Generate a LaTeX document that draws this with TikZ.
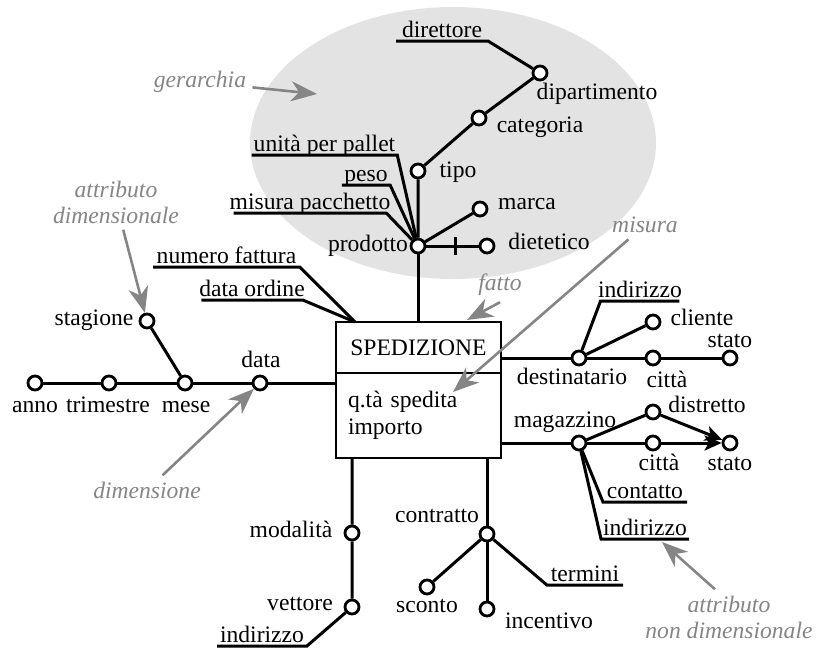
\documentclass[tikz,border=0pt]{standalone}
\usepackage{fontspec}
\setmainfont{Liberation Serif}
\usetikzlibrary{shapes.geometric,arrows.meta,calc,positioning}

\tikzset{
  every node/.style={font=\fontsize{11.8}{13.5}\selectfont},
  attr/.style={circle, draw, fill=white, line width=1.4pt, minimum size=7pt, inner sep=0pt},
  lbl/.style={inner sep=0pt, outer sep=0pt, text height=0.7em, text depth=0.2em},
  uline/.style={lbl, anchor=south},
  fact/.style={draw, line width=1.4pt, outer sep=0pt, minimum width=82.5pt, inner xsep=6pt},
  link/.style={line width=1.5pt},
  tip/.style={-{Stealth[length=8.5pt,width=7.5pt,inset=2pt]}},
  note/.style={text=black!48, font=\fontsize{11.8}{13}\selectfont\itshape, align=center, inner sep=3pt},
  notearrow/.style={draw=black!48, line width=1.3pt, -{Stealth[length=13pt,width=10pt,inset=4pt]}},
}

\begin{document}
\begin{tikzpicture}[x=0.5pt,y=-0.5pt]
\useasboundingbox (0,0) rectangle (816,649);

\node[ellipse, fill=black!11, inner sep=0pt, minimum width=203pt, minimum height=136pt] (gerarchia) at (453,143) {};

% fatto
\node[fact, minimum height=25.5pt] (spediz) at (418.5,347.5) {SPEDIZIONE};
\node[fact, minimum height=42.5pt, text width=70.5pt, align=left, below=0pt of spediz] (misure) {q.tà spedita\\importo};
\coordinate (conv) at ($(spediz.north west)+(19,0)$);

% prodotto
\node[attr] (prod) at (418,246) {};
\node[attr] (tipo) at (418,171) {};
\node[attr] (categ) at (479,118) {};
\node[attr] (dipart) at (540,73) {};
\node[attr] (marca) at (480,209) {};
\node[attr] (diet) at (487,246) {};
\node[lbl] (prod_lbl) at (368,246) {prodotto};
\node[lbl] (tipo_lbl) at (458,172) {tipo};
\node[lbl] (categ_lbl) at (540,127) {categoria};
\node[lbl] (dipart_lbl) at (597,94) {dipartimento};
\node[lbl] (marca_lbl) at (527,204) {marca};
\node[lbl] (diet_lbl) at (549,244) {dietetico};
\node[uline, inner xsep=3pt] (direttore) at (442,41) {direttore};
\node[uline, inner xsep=1pt] (unita) at (324.5,155) {unità per pallet};
\node[uline, inner xsep=1.25pt] (peso) at (366,185) {peso};
\node[uline, inner xsep=-2pt] (misura) at (310,213) {misura pacchetto};

% data
\node[attr] (anno) at (35,383) {};
\node[attr] (trim) at (109,383) {};
\node[attr] (mese) at (185,383) {};
\node[attr] (data) at (260,383) {};
\node[attr] (stag) at (147,321) {};
\node[lbl] (anno_lbl) at (35,407) {anno};
\node[lbl] (trim_lbl) at (108,407) {trimestre};
\node[lbl] (mese_lbl) at (186,407) {mese};
\node[lbl] (data_lbl) at (261,362) {data};
\node[lbl] (stag_lbl) at (94,320) {stagione};
\node[uline, inner xsep=1.75pt] (num_fatt) at (226.5,267) {numero fattura};
\node[uline, inner xsep=-1pt] (data_ord) at (252,300) {data ordine};

% destinatario
\node[attr] (dest) at (579,358) {};
\node[attr] (citta) at (653,358) {};
\node[attr] (stato) at (730,358) {};
\node[attr] (cliente) at (653,322) {};
\node[lbl] (dest_lbl) at (572,379) {destinatario};
\node[lbl] (citta_lbl) at (667,382) {città};
\node[lbl] (stato_lbl) at (730,342) {stato};
\node[lbl] (cliente_lbl) at (702,320) {cliente};
\node[uline, inner xsep=-1.25pt] (ind_dest) at (640,301) {indirizzo};

% magazzino
\node[attr] (magaz) at (579,443) {};
\node[attr] (citta2) at (653,443) {};
\node[attr] (distr) at (653,412) {};
\node[attr] (stato2) at (730,443) {};
\node[lbl] (magaz_lbl) at (565,422) {magazzino};
\node[lbl] (distr_lbl) at (707,407) {distretto};
\node[lbl] (citta2_lbl) at (659,465) {città};
\node[lbl] (stato2_lbl) at (730,465) {stato};
\node[uline, inner xsep=2pt] (contatto) at (645,502) {contatto};
\node[uline, inner xsep=1pt] (ind_mag) at (645,539) {indirizzo};

% modalita, contratto
\node[attr] (modal) at (352,533) {};
\node[attr] (vett) at (352,607) {};
\node[attr] (contr) at (487,534) {};
\node[attr] (sconto) at (427,587) {};
\node[attr] (incent) at (487,609) {};
\node[lbl] (modal_lbl) at (291,532) {modalità};
\node[lbl] (vett_lbl) at (300,605) {vettore};
\node[lbl] (contr_lbl) at (437,517) {contratto};
\node[lbl] (sconto_lbl) at (427,607) {sconto};
\node[lbl] (incent_lbl) at (549,623) {incentivo};
\node[uline, inner xsep=1.5pt] (ind_vett) at (262,646) {indirizzo};
\node[uline, inner xsep=2pt] (termini) at (585,585) {termini};

\draw[link] (prod) -- (prod |- spediz.north);
\draw[link] (prod) -- (tipo) -- (categ) -- (dipart) -- (direttore.south east) -- (direttore.south west);
\draw[link] (prod) -- (marca);
\draw[link] (prod) -- coordinate[pos=0.55] (taglio) (diet);
\draw[link] (taglio) ++(0,-9) -- ++(0,18);
\draw[link] (prod) -- (unita.south east) -- (unita.south west);
\draw[link] (prod) -- (peso.south east) -- (peso.south west);
\draw[link] (prod) -- (misura.south east) -- (misura.south west);

\draw[link] (conv) -- (num_fatt.south east) -- (num_fatt.south west);
\draw[link] (conv) -- (data_ord.south east) -- (data_ord.south west);
\draw[link] (anno) -- (trim) -- (mese) -- (data) -- (data -| misure.west);
\draw[link] (mese) -- (stag);

\draw[link] (dest -| spediz.east) -- (dest) -- (citta) -- (stato);
\draw[link] (dest) -- (cliente);
\draw[link] (dest) -- (ind_dest.south west) -- (ind_dest.south east);
\draw[link] (magaz -| misure.east) -- (magaz) -- (citta2);
\draw[link, tip] (citta2) -- (stato2);
\draw[link] (magaz) -- (distr);
\draw[link, tip] (distr) -- (stato2);
\draw[link] (magaz) -- (contatto.south west) -- (contatto.south east);
\draw[link] (magaz) -- (ind_mag.south west) -- (ind_mag.south east);

\draw[link] (modal |- misure.south) -- (modal) -- (vett) -- (ind_vett.south east) -- (ind_vett.south west);
\draw[link] (contr |- misure.south) -- (contr) -- (incent);
\draw[link] (contr) -- (sconto);
\draw[link] (contr) -- (termini.south west) -- (termini.south east);

% annotazioni
\node[note] (n_gerarchia) at (200,82) {gerarchia};
\node[note] (n_attrdim) at (116,202) {attributo\\dimensionale};
\node[note] (n_dim) at (147,490) {dimensione};
\node[note] (n_misura) at (645,225) {misura};
\node[note] (n_fatto) at (500,285) {fatto};
\node[note] (n_nondim) at (729,617) {attributo\\non dimensionale};
\coordinate (p_gerarchia) at (317,94);
\coordinate (p_misura) at (453,392);
\coordinate (p_fatto) at (467,320);
\coordinate (p_nondim) at (662,542);

\draw[notearrow] (n_gerarchia) -- (p_gerarchia);
\draw[notearrow] (n_attrdim) -- (stag);
\draw[notearrow] (n_dim) -- (data);
\draw[notearrow] (n_misura) -- (p_misura);
\draw[notearrow] (n_fatto.south) -- (p_fatto);
\draw[notearrow] ([xshift=-7pt]n_nondim.north) -- (p_nondim);

\end{tikzpicture}
\end{document}
